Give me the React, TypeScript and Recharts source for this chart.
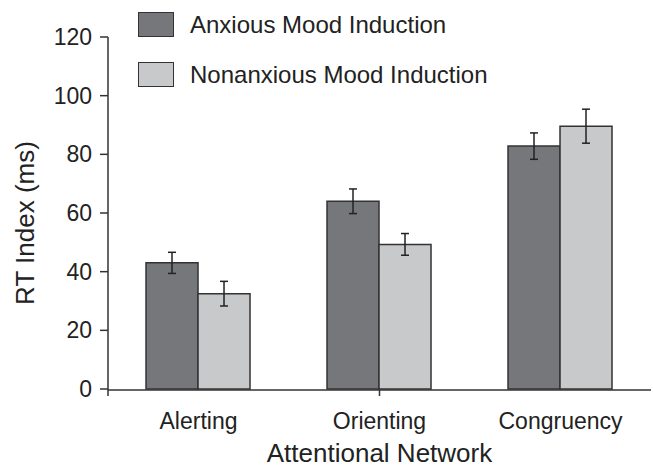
import { BarChart, Bar, XAxis, YAxis, ErrorBar, Legend } from "recharts";

const networks = ["Alerting", "Orienting", "Congruency"];
const anxious = [43, 64, 82.8];
const anxiousErr = [3.6, 4.2, 4.5];
const nonanxious = [32.5, 49.3, 89.6];
const nonanxiousErr = [4.2, 3.7, 5.8];
const yTicks = [0, 20, 40, 60, 80, 100, 120];
const edgeTicks = [0, 1, 2, 3];

const SERIES = [
  { key: "anxious", label: "Anxious Mood Induction", fill: "#76777b" },
  { key: "nonanxious", label: "Nonanxious Mood Induction", fill: "#c8c9cb" },
];

const data = networks.map((name, i) => ({
  name,
  anxious: anxious[i],
  anxiousErr: anxiousErr[i],
  nonanxious: nonanxious[i],
  nonanxiousErr: nonanxiousErr[i],
}));

const FONT = "'Liberation Sans', Arial, sans-serif";
const INK = "#222";

function LegendBox() {
  return (
    <div style={{ fontFamily: FONT, color: INK }}>
      {SERIES.map((s, i) => (
        <div key={s.key} style={{ display: "flex", alignItems: "center", height: 25, marginTop: i ? 25 : 0 }}>
          <span style={{ width: 34, height: 23, background: s.fill, border: "1.5px solid #333", display: "inline-block" }} />
          <span style={{ fontSize: 24, marginLeft: 16, whiteSpace: "nowrap" }}>{s.label}</span>
        </div>
      ))}
    </div>
  );
}

function YTitle({ viewBox }: any) {
  const cx = viewBox.x + 25;
  const cy = viewBox.y + viewBox.height / 2 + 10;
  return (
    <text x={cx} y={cy} transform={`rotate(-90 ${cx} ${cy})`} textAnchor="middle"
      dominantBaseline="central" fontSize={26} fill={INK} fontFamily={FONT}>
      RT Index (ms)
    </text>
  );
}

export default function App() {
  return (
    <div style={{ position: "absolute", left: 0, top: 0, background: "#fff" }}>
      <BarChart width={653} height={468} data={data} barCategoryGap="21%" barGap={0}
        margin={{ top: 37, right: 2, bottom: 0, left: 0 }}>
        {/* boundary ticks between groups */}
        <XAxis xAxisId="a" type="number" domain={[0, 3]} ticks={edgeTicks} height={1}
          tickFormatter={() => ""} tickSize={7} axisLine={false}
          tickLine={{ stroke: "#333", strokeWidth: 1.5 }} />
        <XAxis xAxisId="b" dataKey="name" height={78} tickLine={false} tickSize={0} tickMargin={23}
          axisLine={{ stroke: "#333", strokeWidth: 1.5 }}
          tick={{ fontSize: 23, fill: INK, fontFamily: FONT }}
          label={{ value: "Attentional Network", position: "insideBottom", offset: 6, fontSize: 26, fill: INK, fontFamily: FONT }} />
        <YAxis width={108} domain={[0, 120]} ticks={yTicks} tickSize={8} tickMargin={8}
          axisLine={{ stroke: "#333", strokeWidth: 1.5 }} tickLine={{ stroke: "#333", strokeWidth: 1.5 }}
          tick={{ fontSize: 23, fill: INK, fontFamily: FONT }}
          label={<YTitle />} />
        <Legend layout="vertical" align="center" verticalAlign="middle" content={<LegendBox />}
          wrapperStyle={{ top: 12, left: 138, width: 400, height: 80 }} />
        {SERIES.map((s) => (
          <Bar key={s.key} xAxisId="b" dataKey={s.key} name={s.label} fill={s.fill} stroke="#333" strokeWidth={1.5}
            isAnimationActive={false}>
            <ErrorBar dataKey={`${s.key}Err`} width={4} stroke={INK} strokeWidth={1.5} />
          </Bar>
        ))}
      </BarChart>
    </div>
  );
}
